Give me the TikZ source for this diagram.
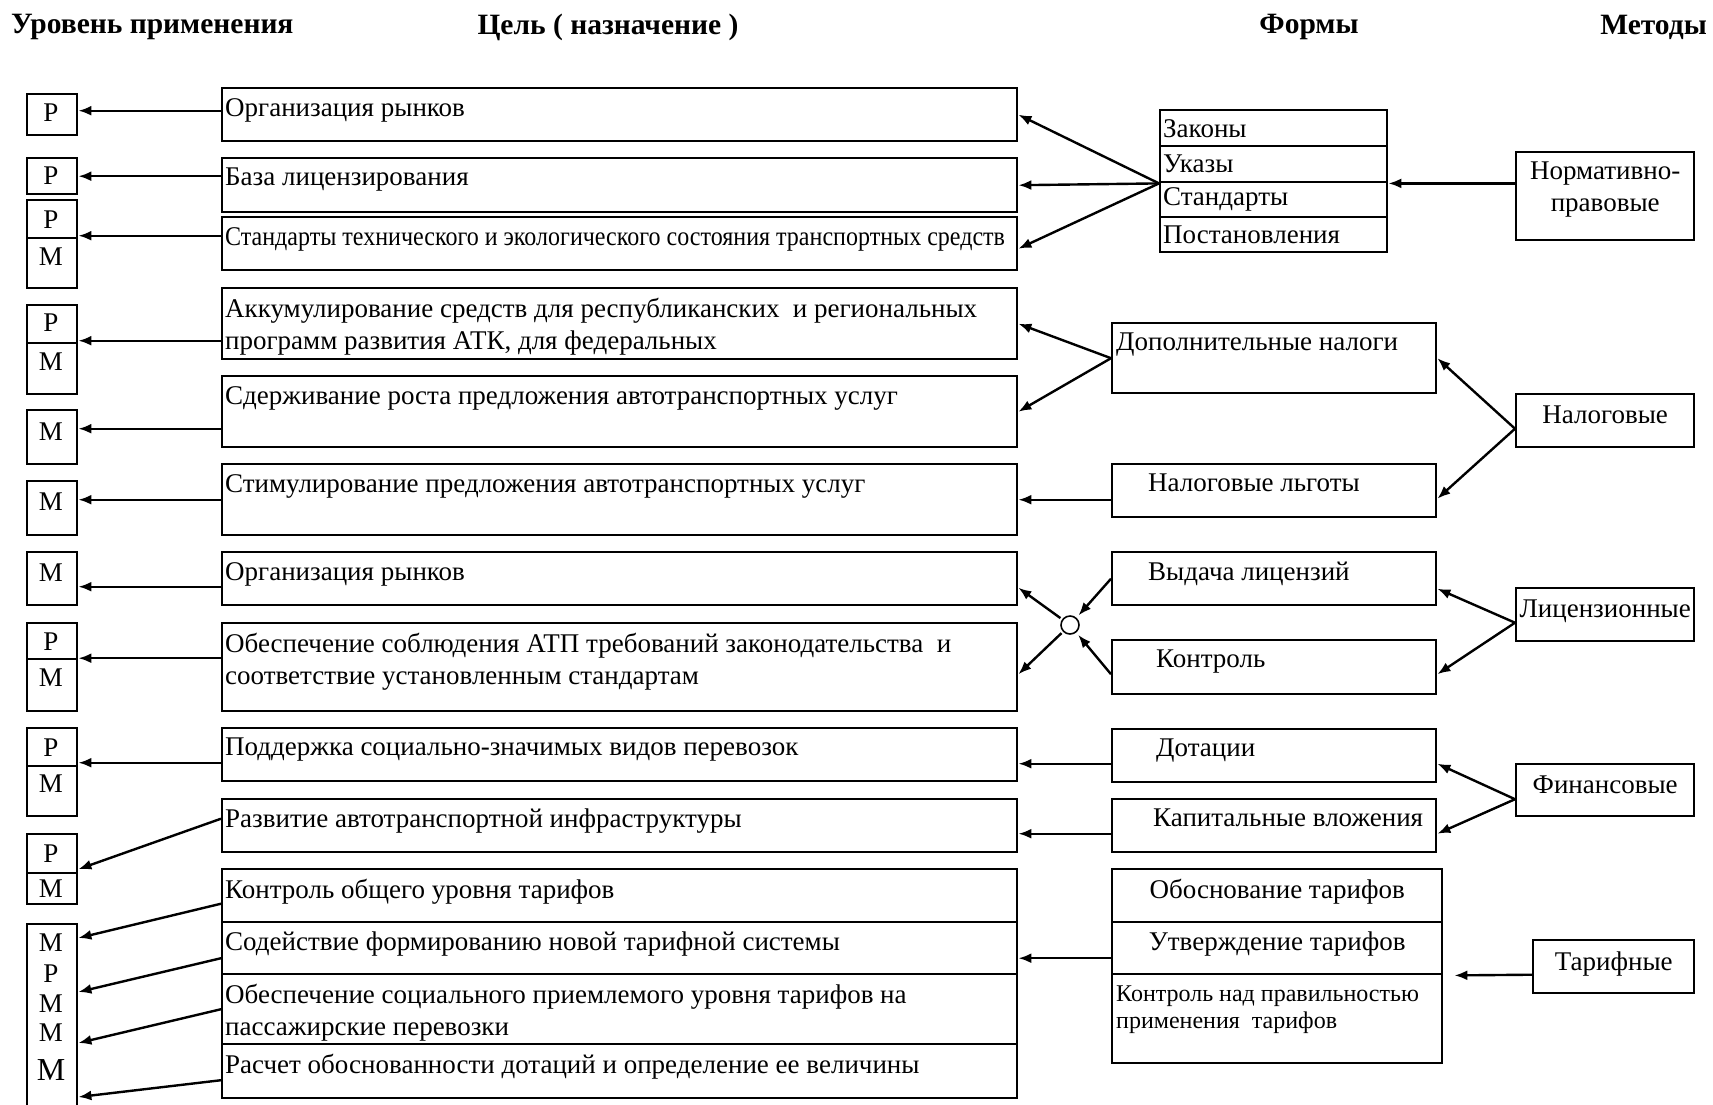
\documentclass[tikz,border=0pt]{standalone}
\usepackage{fontspec}
\usepackage{graphicx}
\setmainfont{Liberation Serif}
\usetikzlibrary{arrows.meta, positioning}

\tikzset{
  box/.style={draw, line width=2.4pt, anchor=north west, inner sep=0pt},
  goal/.style={box, minimum width=795pt},
  lvl/.style={box, minimum width=50pt},
  form/.style={box, minimum width=324pt, minimum height=53pt},
  meth/.style={box, minimum width=178pt, minimum height=53pt},
  law/.style={box, minimum width=227pt, minimum height=36pt, text width=221pt, inner xsep=3pt, align=left, font=\fontsize{27}{32}\selectfont},
  txt/.style={anchor=north west, inner sep=0pt, align=left, font=\fontsize{27}{32}\selectfont},
  lettr/.style={inner sep=0pt, align=center, font=\fontsize{27}{32}\selectfont},
  head/.style={inner sep=0pt, font=\bfseries\fontsize{29.5}{32}\selectfont},
  arr/.style={line width=2.4pt, -{Latex[length=13pt,width=10pt]}},
  divl/.style={line width=2.4pt},
}

\begin{document}
\begin{tikzpicture}[x=1pt, y=-1pt]
\useasboundingbox (0,0) rectangle (1713,1104);

% headers
\node[head, anchor=west] (hlev) at (11,27) {Уровень применения};
\node[head] (hgoal) at (608,27) {Цель ( назначение )};
\node[head] (hform) at (1309,27) {Формы};
\node[head, anchor=east] (hmeth) at (1707,27) {Методы};

% goals
\node[goal, minimum height=53pt] (g1) at (221,87) {};
\node[goal, minimum height=54pt] (g2) at (221,157) {};
\node[goal, minimum height=53pt] (g3) at (221,216) {};
\node[goal, minimum height=71pt] (g4) at (221,287) {};
\node[goal, minimum height=71pt] (g5) at (221,375) {};
\node[goal, minimum height=71pt] (g6) at (221,463) {};
\node[goal, minimum height=53pt] (g7) at (221,551) {};
\node[goal, minimum height=88pt] (g8) at (221,622) {};
\node[goal, minimum height=53pt] (g9) at (221,727) {};
\node[goal, minimum height=53pt] (g10) at (221,798) {};
\node[goal, minimum height=53pt] (g11) at (221,868) {};
\node[goal, minimum height=52pt] (g12) at (221,921) {};
\node[goal, minimum height=70pt] (g13) at (221,973) {};
\node[goal, minimum height=54pt] (g14) at (221,1043) {};

\node[txt] (t1) at ([xshift=4pt,yshift=-11pt]g1.north west) {Организация рынков};
\node[txt] (t2) at ([xshift=4pt,yshift=-11pt]g2.north west) {База лицензирования};
\node[txt] (t3) at ([xshift=4pt,yshift=-11pt]g3.north west) {\scalebox{0.89}[1]{Стандарты технического и экологического состояния транспортных средств}};
\node[txt] (t4) at ([xshift=4pt,yshift=-11pt]g4.north west) {Аккумулирование средств для республиканских~ и региональных\\программ развития АТК, для федеральных};
\node[txt] (t5) at ([xshift=4pt,yshift=-11pt]g5.north west) {Сдерживание роста предложения автотранспортных услуг};
\node[txt] (t6) at ([xshift=4pt,yshift=-11pt]g6.north west) {Стимулирование предложения автотранспортных услуг};
\node[txt] (t7) at ([xshift=4pt,yshift=-11pt]g7.north west) {Организация рынков};
\node[txt] (t8) at ([xshift=4pt,yshift=-11pt]g8.north west) {Обеспечение соблюдения АТП требований законодательства~ и\\соответствие установленным стандартам};
\node[txt] (t9) at ([xshift=4pt,yshift=-11pt]g9.north west) {Поддержка социально-значимых видов перевозок};
\node[txt] (t10) at ([xshift=4pt,yshift=-11pt]g10.north west) {Развитие автотранспортной инфраструктуры};
\node[txt] (t11) at ([xshift=4pt,yshift=-11pt]g11.north west) {Контроль общего уровня тарифов};
\node[txt] (t12) at ([xshift=4pt,yshift=-11pt]g12.north west) {Содействие формированию новой тарифной системы};
\node[txt] (t13) at ([xshift=4pt,yshift=-11pt]g13.north west) {Обеспечение социального приемлемого уровня тарифов на\\пассажирские перевозки};
\node[txt] (t14) at ([xshift=4pt,yshift=-11pt]g14.north west) {Расчет обоснованности дотаций и определение ее величины};

% levels
\node[lvl, minimum height=41pt] (s1) at (26,93) {};
\node[lvl, minimum height=36pt] (s2) at (26,157) {};
\node[lvl, minimum height=88pt] (s3) at (26,199) {};
\node[lvl, minimum height=89pt] (s4) at (26,304) {};
\node[lvl, minimum height=54pt] (s5) at (26,409) {};
\node[lvl, minimum height=54pt] (s6) at (26,480) {};
\node[lvl, minimum height=53pt] (s7) at (26,551) {};
\node[lvl, minimum height=88pt] (s8) at (26,622) {};
\node[lvl, minimum height=88pt] (s9) at (26,727) {};
\node[lvl, minimum height=70pt] (s10) at (26,833) {};
\node[lvl, minimum height=200pt] (s11) at (26,923) {};

\draw[divl] ([yshift=-39pt]s3.north west) -- ([yshift=-39pt]s3.north east);
\draw[divl] ([yshift=-39pt]s4.north west) -- ([yshift=-39pt]s4.north east);
\draw[divl] ([yshift=-37pt]s8.north west) -- ([yshift=-37pt]s8.north east);
\draw[divl] ([yshift=-39pt]s9.north west) -- ([yshift=-39pt]s9.north east);
\draw[divl] ([yshift=-40pt]s10.north west) -- ([yshift=-40pt]s10.north east);

\node[lettr] (r1) at (51,113) {Р};
\node[lettr] (r2) at (51,176) {Р};
\node[lettr] (r3) at (51,220) {Р};
\node[lettr] (m3) at (51,257) {М};
\node[lettr] (r4) at (51,323) {Р};
\node[lettr] (m4) at (51,362) {М};
\node[lettr] (m5) at (51,432) {М};
\node[lettr] (m6) at (51,502) {М};
\node[lettr] (m7) at (51,573) {М};
\node[lettr] (r8) at (51,642) {Р};
\node[lettr] (m8) at (51,678) {М};
\node[lettr] (r9) at (51,748) {Р};
\node[lettr] (m9) at (51,784) {М};
\node[lettr] (r10) at (51,854) {Р};
\node[lettr] (m10) at (51,889) {М};
\node[lettr] (m11a) at (51,943) {М};
\node[lettr] (r11) at (51,974) {Р};
\node[lettr] (m11b) at (51,1004) {М};
\node[lettr] (m11c) at (51,1033) {М};
\node[lettr, font=\fontsize{32}{32}\selectfont] (m11d) at (51,1070) {М};

\draw[arr] ([yshift=4pt]g1.west) -- ([yshift=4pt]g1.west -| s1.east);
\draw[arr] ([yshift=9pt]g2.west) -- ([yshift=9pt]g2.west -| s2.east);
\draw[arr] ([yshift=8pt]g3.west) -- ([yshift=8pt]g3.west -| s3.east);
\draw[arr] ([yshift=-17pt]g4.west) -- ([yshift=-17pt]g4.west -| s4.east);
\draw[arr] ([yshift=-17pt]g5.west) -- ([yshift=-17pt]g5.west -| s5.east);
\draw[arr] (g6.west) -- (g6.west -| s6.east);
\draw[arr] ([yshift=-8pt]g7.west) -- ([yshift=-8pt]g7.west -| s7.east);
\draw[arr] ([yshift=9pt]g8.west) -- ([yshift=9pt]g8.west -| s8.east);
\draw[arr] ([yshift=-8pt]g9.west) -- ([yshift=-8pt]g9.west -| s9.east);
\draw[arr] ([yshift=7pt]g10.west) -- (s10.east);
\draw[arr] ([yshift=-8pt]g11.west) -- ([yshift=-15pt]s11.north east);
\draw[arr] ([yshift=-10pt]g12.west) -- ([yshift=-69pt]s11.north east);
\draw[arr] (g13.west) -- ([yshift=-120pt]s11.north east);
\draw[arr] ([yshift=-9pt]g14.west) -- ([yshift=-174pt]s11.north east);

% normative
\node[law] (zak) at (1159,109) {Законы};
\node[law] (uka) at (1159,145) {Указы};
\node[law, minimum height=35pt] (sta) at (1159,181) {Стандарты};
\node[law, minimum height=35pt] (pos) at (1159,216) {Постановления};
\node[meth, minimum height=88pt] (norm) at (1515,151) {};
\node[lettr] (tnorm) at ([yshift=7pt]norm.center) {Нормативно-\\правовые};

\draw[arr] (norm.west |- uka.south east) -- (uka.south east);
\draw[arr] (uka.south west) -- (g1.east);
\draw[arr] (uka.south west) -- (g2.east);
\draw[arr] (uka.south west) -- ([yshift=-5pt]g3.east);

% taxes
\node[form, minimum height=70pt] (dop) at (1111,322) {};
\node[txt] (tdop) at ([xshift=5pt,yshift=-11pt]dop.north west) {Дополнительные налоги};
\node[form] (lg) at (1111,463) {};
\node[txt] (tlg) at ([xshift=37pt,yshift=-11pt]lg.north west) {Налоговые льготы};
\node[meth] (nal) at (1515,393) {};
\node[lettr] (tnal) at ([yshift=6pt]nal.center) {Налоговые};

\draw[arr] (dop.west) -- (g4.east);
\draw[arr] (dop.west) -- (g5.east);
\draw[arr] (lg.west |- g6.east) -- (g6.east);
\draw[arr] ([yshift=-8pt]nal.west) -- (dop.east);
\draw[arr] ([yshift=-8pt]nal.west) -- ([yshift=-8pt]lg.east);

% licences
\node[form] (vyd) at (1111,551) {};
\node[txt] (tvyd) at ([xshift=37pt,yshift=-11pt]vyd.north west) {Выдача лицензий};
\node[form, minimum height=54pt] (kon) at (1111,639) {};
\node[txt] (tkon) at ([xshift=45pt,yshift=-11pt]kon.north west) {Контроль};
\node[meth] (lic) at (1515,587) {};
\node[lettr] (tlic) at ([yshift=3pt]lic.center) {Лицензионные};
\node[circle, draw, line width=1.6pt, minimum size=18pt, inner sep=0pt] (knot) at (1070,625) {};

\draw[arr, shorten >=3pt] (vyd.west) -- (knot);
\draw[arr, shorten >=3pt] ([yshift=-7pt]kon.west) -- (knot);
\draw[arr, shorten <=2pt] (knot) -- ([yshift=-9pt]g7.east);
\draw[arr, shorten <=2pt] (knot) -- ([yshift=-7pt]g8.east);
\draw[arr] ([yshift=-8pt]lic.west) -- ([yshift=-10pt]vyd.east);
\draw[arr] ([yshift=-8pt]lic.west) -- ([yshift=-7pt]kon.east);

% finance
\node[form] (dot) at (1111,728) {};
\node[txt] (tdot) at ([xshift=45pt,yshift=-11pt]dot.north west) {Дотации};
\node[form] (kap) at (1111,798) {};
\node[txt] (tkap) at ([xshift=42pt,yshift=-11pt]kap.north west) {Капитальные вложения};
\node[meth, minimum height=52pt] (fin) at (1515,763) {};
\node[lettr] (tfin) at ([yshift=5pt]fin.center) {Финансовые};

\draw[arr] ([yshift=-8pt]dot.west) -- ([yshift=-8pt]dot.west -| g9.east);
\draw[arr] ([yshift=-8pt]kap.west) -- ([yshift=-8pt]kap.west -| g10.east);
\draw[arr] ([yshift=-9pt]fin.west) -- ([yshift=-8pt]dot.east);
\draw[arr] ([yshift=-9pt]fin.west) -- ([yshift=-8pt]kap.east);

% tariffs
\node[box, minimum width=330pt, minimum height=53pt] (obo) at (1111,868) {};
\node[txt, anchor=north] (tobo) at ([yshift=-11pt]obo.north) {Обоснование тарифов};
\node[box, minimum width=330pt, minimum height=52pt] (utv) at (1111,921) {};
\node[txt, anchor=north] (tutv) at ([yshift=-11pt]utv.north) {Утверждение тарифов};
\node[box, minimum width=330pt, minimum height=89pt] (kpr) at (1111,973) {};
\node[txt, font=\fontsize{24}{27}\selectfont] (tkpr) at ([xshift=5pt,yshift=-13pt]kpr.north west) {Контроль над правильностью\\применения~ тарифов};
\node[meth, minimum width=161pt] (tar) at (1532,939) {};
\node[lettr] (ttar) at ([yshift=3pt]tar.center) {Тарифные};

\draw[arr] ([yshift=-10pt]utv.west) -- ([yshift=-10pt]utv.west -| g12.east);
\draw[arr] ([yshift=-8pt]tar.west) -- ([xshift=11pt]utv.south east);
\end{tikzpicture}
\end{document}
